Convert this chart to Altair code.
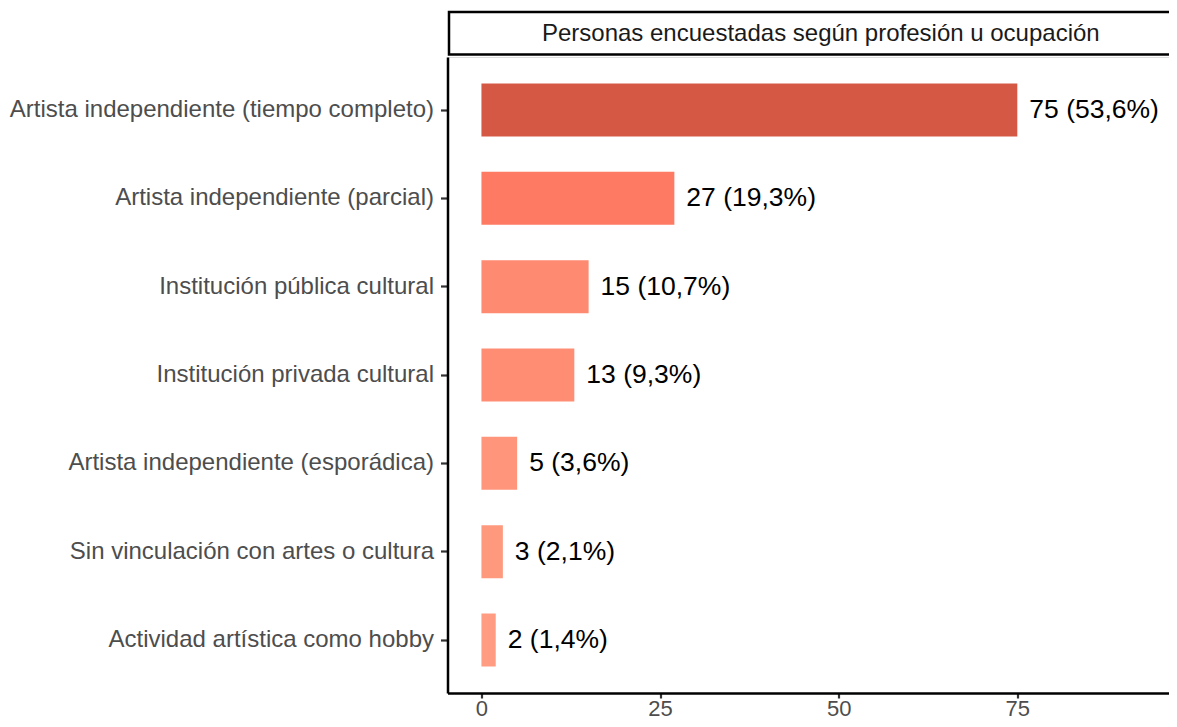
import altair as alt
import pandas as pd

categories = [
    "Artista independiente (tiempo completo)",
    "Artista independiente (parcial)",
    "Institución pública cultural",
    "Institución privada cultural",
    "Artista independiente (esporádica)",
    "Sin vinculación con artes o cultura",
    "Actividad artística como hobby",
]
counts = [75, 27, 15, 13, 5, 3, 2]
labels = ["75 (53,6%)", "27 (19,3%)", "15 (10,7%)", "13 (9,3%)", "5 (3,6%)", "3 (2,1%)", "2 (1,4%)"]
palette = ["#D55845", "#FF7A62", "#FF8A72", "#FF8D74", "#FF967B", "#FF997E", "#FF9C81"]
strip_title = "Personas encuestadas según profesión u ocupación"
x_ticks = [0, 25, 50, 75]

df = pd.DataFrame({"cat": categories, "n": counts, "label": labels})

FONT = "Liberation Sans"
PAD_L = 439.5
PAD_T = 49
W = 1161 - PAD_L
H = 636
PAD_B = 711 - PAD_T - H
UNIT = 7.145  # px per count unit
XMIN = -4.75
XMAX = XMIN + W / UNIT

xscale = alt.Scale(domain=[XMIN, XMAX], nice=False, zero=False)
yscale = alt.Scale(paddingInner=0.4, paddingOuter=0.3)

base = alt.Chart(df)

bars = base.mark_bar().encode(
    x=alt.X("n:Q", scale=xscale,
            axis=alt.Axis(values=x_ticks, title=None, grid=False, domainColor="black",
                          domainWidth=2.5, tickColor="#333333", tickWidth=2.2, tickSize=5,
                          labelPadding=0, labelFontSize=22, labelColor="#4D4D4D",
                          labelFont=FONT)),
    y=alt.Y("cat:N", sort=categories, scale=yscale,
            axis=alt.Axis(title=None, grid=False, domainColor="black", domainWidth=2.5,
                          tickColor="#333333", tickWidth=2.2, tickSize=7, labelPadding=7,
                          labelFontSize=24, labelColor="#4D4D4D", labelFont=FONT,
                          labelLimit=1000)),
    color=alt.Color("cat:N", scale=alt.Scale(domain=categories, range=palette), legend=None),
)

text = base.mark_text(align="left", baseline="middle", dx=12, fontSize=26.5,
                      font=FONT, color="black").encode(
    x=alt.X("n:Q", scale=xscale),
    y=alt.Y("cat:N", sort=categories, scale=yscale),
    text="label:N",
)

strip_box = alt.Chart(pd.DataFrame({"t": [strip_title]})).mark_rect(
    fill="white", stroke="black", strokeWidth=2.5
).encode(
    x=alt.value(1.5), x2=alt.value(780), y=alt.value(-45), y2=alt.value(-2.5)
)

strip_text = alt.Chart(pd.DataFrame({"t": [strip_title]})).mark_text(
    fontSize=24, font=FONT, color="#1A1A1A", baseline="middle", align="center"
).encode(
    x=alt.datum(47.5, scale=xscale), y=alt.value(-23.5), text="t:N"
)

chart = alt.layer(bars, text, strip_box, strip_text).properties(
    width=W, height=H,
    autosize=alt.AutoSizeParams(type="none"),
    padding={"left": PAD_L, "top": PAD_T, "right": 0, "bottom": PAD_B},
).configure_view(stroke=None).configure(background="white")

chart.save("out.html", embed_options={"renderer": "svg", "actions": False})
